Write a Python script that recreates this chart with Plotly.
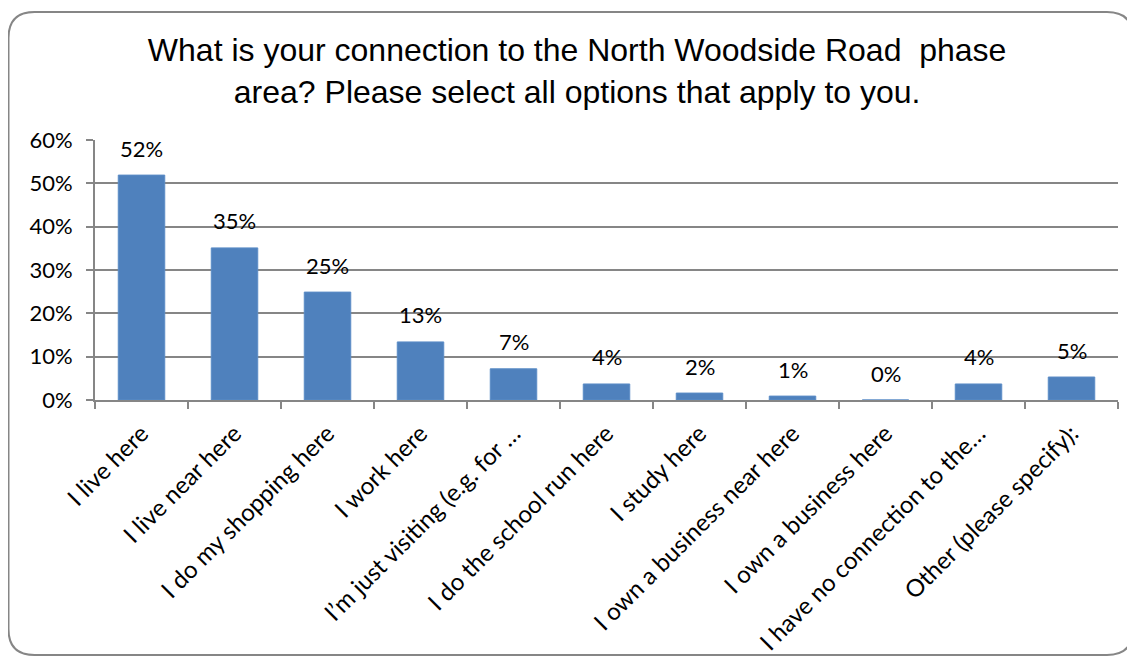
import plotly.graph_objects as go

# survey answers (share of respondents)
categories = [
    "I live here",
    "I live near here",
    "I do my shopping here",
    "I work here",
    "I\u2019m just visiting (e.g. for \u2026",
    "I do the school run here",
    "I study here",
    "I own a business near here",
    "I own a business here",
    "I have no connection to the\u2026",
    "Other (please specify):",
]
values = [0.519, 0.351, 0.249, 0.134, 0.072, 0.037, 0.016, 0.009, 0.0, 0.037, 0.053]
labels = ["52%", "35%", "25%", "13%", "7%", "4%", "2%", "1%", "0%", "4%", "5%"]

# page has an 8px body margin, so the figure is drawn 8px smaller
W, H = 1127, 649
L, R, T, B = 87, 17, 132, 257
GRID = "#868686"


def px_to_paper(x, y):
    return (x - L) / (W - L - R), 1 - (y - T) / (H - T - B)


def rounded_rect(x0, y0, x1, y1, r):
    pts = [
        ("M", x0 + r, y0), ("L", x1 - r, y0), ("Q", x1, y0, x1, y0 + r),
        ("L", x1, y1 - r), ("Q", x1, y1, x1 - r, y1), ("L", x0 + r, y1),
        ("Q", x0, y1, x0, y1 - r), ("L", x0, y0 + r), ("Q", x0, y0, x0 + r, y0),
    ]
    out = []
    for p in pts:
        cmd, coords = p[0], p[1:]
        xy = []
        for i in range(0, len(coords), 2):
            a, b = px_to_paper(coords[i], coords[i + 1])
            xy.append(f"{a:.5f},{b:.5f}")
        out.append(cmd + " ".join(xy))
    return " ".join(out) + " Z"


fig = go.Figure(
    go.Bar(
        x=categories,
        y=values,
        marker=dict(color="#4F81BD", line=dict(color="#5B8CC6", width=1)),
        width=0.5,
        hoverinfo="skip",
    )
)

for c, v, t in zip(categories, values, labels):
    fig.add_annotation(
        x=c, y=v, text=t, showarrow=False, yshift=27, yanchor="middle",
        font=dict(family="Lato, sans-serif", size=22, color="#000000"),
    )

fig.update_layout(
    width=W,
    height=H,
    title=dict(
        text="What is your connection to the North Woodside Road \u00a0phase<br>area? Please select all options that apply to you.",
        x=0.505, xanchor="center", y=0.918, yanchor="top",
        font=dict(family="Liberation Sans, Arial, sans-serif", size=32, color="#000000"),
    ),
    plot_bgcolor="#ffffff",
    paper_bgcolor="#ffffff",
    margin=dict(l=L, r=R, t=T, b=B, autoexpand=False),
    showlegend=False,
    font=dict(family="Lato, sans-serif", size=22, color="#000000"),
    shapes=[
        dict(
            type="path", xref="paper", yref="paper",
            path=rounded_rect(0.5, 4, 1125, 647, 26),
            line=dict(color=GRID, width=2), fillcolor="rgba(0,0,0,0)",
            layer="below",
        )
    ],
)
fig.update_xaxes(
    tickangle=-45, tickfont=dict(size=24), automargin=False, ticklabelstandoff=8,
    showline=True, linecolor=GRID, linewidth=2,
    ticks="outside", tickson="boundaries", ticklen=7, tickcolor=GRID, tickwidth=2,
    showgrid=False,
)
fig.update_yaxes(
    range=[0, 0.6], dtick=0.1, tickformat=".0%", automargin=False, ticklabelstandoff=9,
    showline=True, linecolor=GRID, linewidth=2,
    ticks="outside", ticklen=7, tickcolor=GRID, tickwidth=2,
    showgrid=True, gridcolor=GRID, gridwidth=1.5,
    zeroline=False,
)

fig.write_html("out.html")
